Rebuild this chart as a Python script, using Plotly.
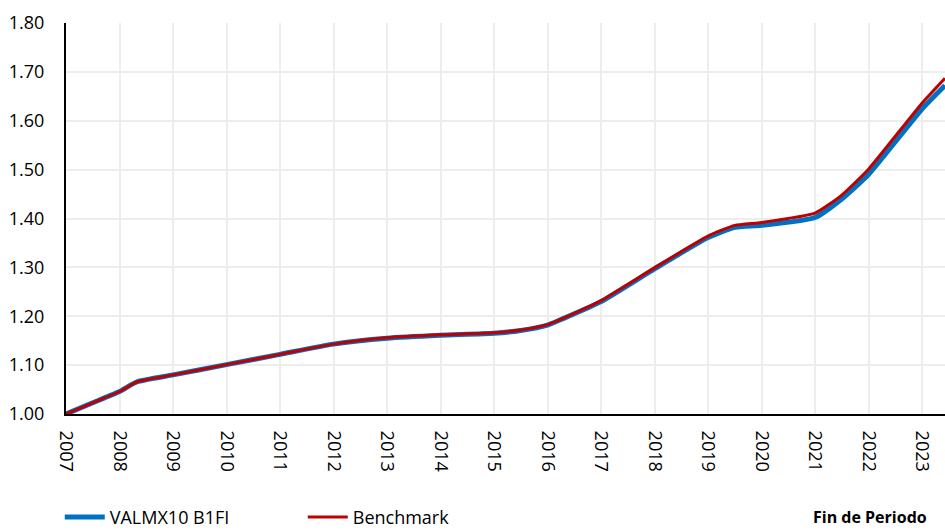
import plotly.graph_objects as go

# Data
periods = [2007.0, 2007.5, 2008.0, 2008.33, 2009.0, 2010.0, 2011.0, 2012.0, 2013.0,
           2014.0, 2015.0, 2015.5, 2016.0, 2016.5, 2017.0, 2018.0, 2019.0, 2019.5,
           2020.0, 2021.0, 2021.5, 2022.0, 2023.0, 2023.43]
valmx10 = [1.000, 1.023, 1.046, 1.066, 1.080, 1.101, 1.122, 1.143, 1.155,
           1.161, 1.165, 1.171, 1.182, 1.205, 1.230, 1.297, 1.361, 1.382,
           1.386, 1.402, 1.440, 1.490, 1.624, 1.672]
benchmark = [1.000, 1.023, 1.046, 1.066, 1.080, 1.101, 1.122, 1.143, 1.156,
             1.162, 1.166, 1.172, 1.183, 1.206, 1.232, 1.299, 1.364, 1.386,
             1.392, 1.411, 1.448, 1.501, 1.636, 1.687]
year_ticks = list(range(2007, 2024))
y_ticks = [1.0, 1.1, 1.2, 1.3, 1.4, 1.5, 1.6, 1.7, 1.8]

FONT = "'Open Sans', Lato, sans-serif"

fig = go.Figure()
fig.add_trace(go.Scatter(
    x=periods, y=valmx10, name="VALMX10 B1FI", mode="lines",
    line=dict(color="#0070C0", width=5, shape="spline", smoothing=0.5),
))
fig.add_trace(go.Scatter(
    x=periods, y=benchmark, name="Benchmark", mode="lines",
    line=dict(color="#C00000", width=3, shape="spline", smoothing=0.5),
))

fig.update_layout(
    width=945, height=531,
    margin=dict(l=66, r=0, t=23, b=117, autoexpand=False),
    paper_bgcolor="white", plot_bgcolor="white",
    font=dict(family=FONT, size=18, color="black"),
    showlegend=True,
    legend=dict(
        orientation="h", x=-0.0071, xanchor="left", y=-0.264, yanchor="middle",
        font=dict(family=FONT, size=18, color="black"),
        entrywidth=188, entrywidthmode="pixels",
        itemwidth=40, bgcolor="rgba(0,0,0,0)",
    ),
    annotations=[dict(
        text="<b>Fin de Periodo</b>", xref="paper", yref="paper",
        x=0.982, y=-0.264, xanchor="right", yanchor="middle", showarrow=False,
        font=dict(family=FONT, size=16, color="black"),
    )],
)
fig.update_xaxes(
    range=[2007, 2023.43], tickmode="array", tickvals=year_ticks,
    ticktext=[str(y) for y in year_ticks], tickangle=90,
    showgrid=True, gridcolor="#EDEDED", gridwidth=1.5,
    showline=True, linecolor="black", linewidth=2,
    ticks="outside", ticklen=11, tickcolor="rgba(0,0,0,0)",
    zeroline=False, automargin=False,
)
fig.update_yaxes(
    range=[1.0, 1.8], tickmode="array", tickvals=y_ticks,
    ticktext=[f"{v:.2f}" for v in y_ticks],
    showgrid=True, gridcolor="#EDEDED", gridwidth=1.5,
    showline=True, linecolor="black", linewidth=2,
    ticks="outside", ticklen=16, tickcolor="rgba(0,0,0,0)",
    zeroline=False, automargin=False,
)

fig.write_html(
    "out.html",
    config={"displayModeBar": False},
    post_script="document.body.style.margin='0';document.body.style.overflow='hidden';",
)
